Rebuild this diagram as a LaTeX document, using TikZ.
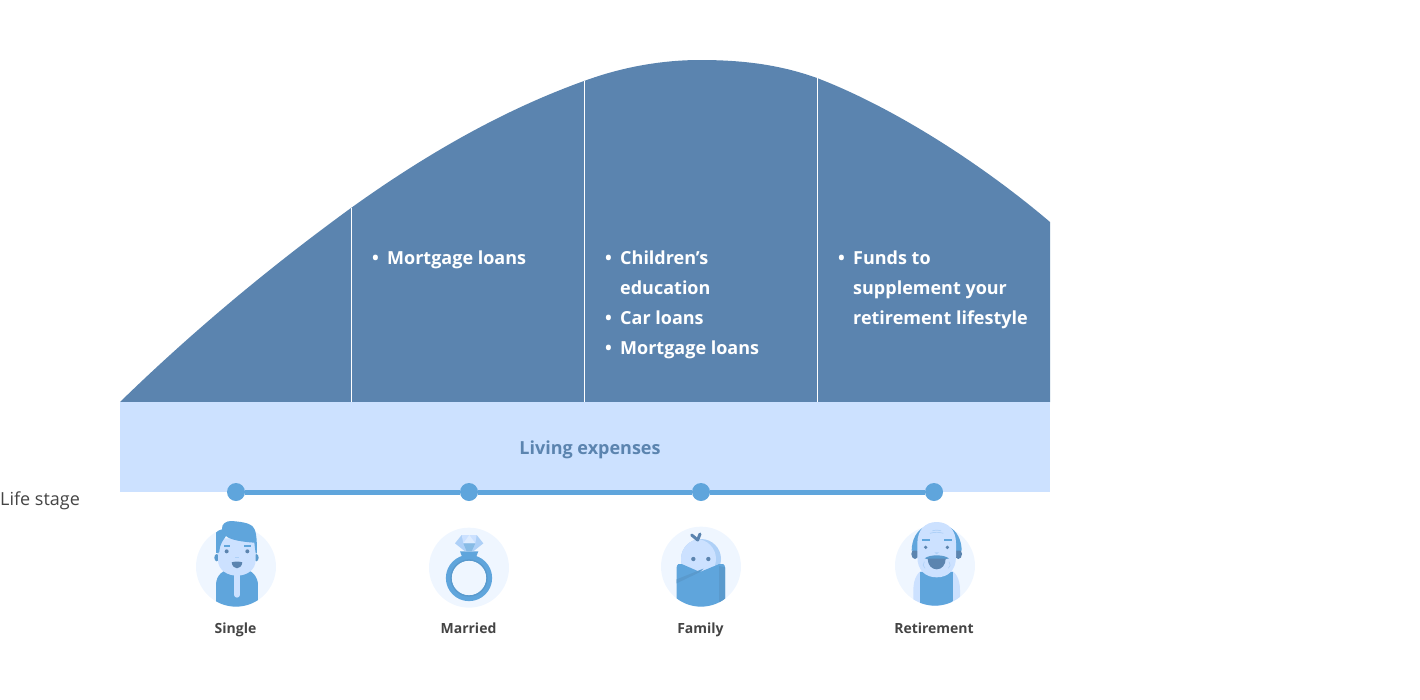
\documentclass[tikz,border=0pt]{standalone}
\usepackage{fontspec}
\setmainfont{Open Sans}
\definecolor{curveblue}{HTML}{5B84AF}
\definecolor{bandblue}{HTML}{CCE1FF}
\definecolor{midblue}{HTML}{5FA5DC}
\definecolor{deepblue}{HTML}{5A9ACD}
\definecolor{paleblue}{HTML}{EFF6FF}
\definecolor{softblue}{HTML}{AED0F7}
\definecolor{inktext}{HTML}{444444}
\tikzset{
  item/.style={anchor=base west,inner sep=0pt,text=white,font=\fontsize{18}{18}\selectfont\bfseries},
  bul/.style={anchor=base,inner sep=0pt,text=white,font=\fontsize{18}{18}\selectfont\bfseries},
  stagelabel/.style={anchor=base,inner sep=0pt,text=inktext,font=\fontsize{14}{14}\selectfont\bfseries},
  dot/.style={circle,fill=midblue,minimum size=18pt,inner sep=0pt},
  divider/.style={white,line width=1pt},
  icon/.style={x=0.3333pt,y=-0.3333pt}
}
\begin{document}
\begin{tikzpicture}[x=1pt,y=-1pt]
\useasboundingbox (0,0) rectangle (1420,699);
% curve area
\fill[curveblue] (120,402) .. controls (196,328) and (274,264) .. (351,208)
  .. controls (429,152) and (506,109) .. (584,81)
  .. controls (622,67) and (662,60) .. (700,60)
  .. controls (740,60) and (778,64) .. (817,78)
  .. controls (895,108) and (983,165) .. (1050,222) -- (1050,402) -- cycle;
\fill[bandblue] (120,402) rectangle (1050,492);
\coordinate (d1t) at (351.5,208); \coordinate (d1b) at (351.5,402);
\coordinate (d2t) at (584.5,81);  \coordinate (d2b) at (584.5,402);
\coordinate (d3t) at (817.5,78);  \coordinate (d3b) at (817.5,402);
\draw[divider] (d1t) -- (d1b);
\draw[divider] (d2t) -- (d2b);
\draw[divider] (d3t) -- (d3b);
% texts
\node[bul] (b1) at (375.5,264) {•};
\node[item] (t1) at (387,264) {Mortgage loans};
\node[bul] (b2) at (608.5,264) {•};
\node[item] (t2) at (620,264) {Children’s};
\node[item] (t2b) at (620,294) {education};
\node[bul] (b3) at (608.5,324) {•};
\node[item] (t3) at (620,324) {Car loans};
\node[bul] (b4) at (608.5,354) {•};
\node[item] (t4) at (620,354) {Mortgage loans};
\node[bul] (b5) at (841.5,264) {•};
\node[item] (t5) at (853,264) {Funds to};
\node[item] (t5b) at (853,294) {supplement your};
\node[item] (t5c) at (853,324) {retirement lifestyle};
\node[anchor=base,inner sep=0pt,text=curveblue,font=\fontsize{18}{18}\selectfont\bfseries] (lv) at (590,454) {Living expenses};
\node[anchor=base west,inner sep=0pt,text=inktext,font=\fontsize{18}{18}\selectfont] (ls) at (0,505) {Life stage};
% timeline
\node[dot] (p1) at (236,492) {};
\node[dot] (p2) at (469,492) {};
\node[dot] (p3) at (701,492) {};
\node[dot] (p4) at (934,492) {};
\draw[midblue,line width=5pt] (p1) -- (p2);
\draw[midblue,line width=5pt] (p2) -- (p3);
\draw[midblue,line width=5pt] (p3) -- (p4);
% labels
\node[stagelabel] (l1) at (235.5,633) {Single};
\node[stagelabel] (l2) at (468.5,633) {Married};
\node[stagelabel] (l3) at (700.5,633) {Family};
\node[stagelabel] (l4) at (934,633) {Retirement};
% single icon
\begin{scope}[shift={(190,510)},icon]
\fill[paleblue] (138,170) circle [radius=120];
\begin{scope}
\clip (138,170) circle [radius=120];
\fill[midblue] (78,290) -- (78,225) .. controls (78,195) and (100,178) .. (125,178) -- (160,178) .. controls (185,178) and (204,200) .. (204,225) -- (204,290) -- cycle;
\end{scope}
\draw[bandblue,line width=5.3pt,line cap=round] (141,190) -- (141,255);
\fill[deepblue] (80,143) ellipse [x radius=7,y radius=11];
\fill[deepblue] (199,143) ellipse [x radius=7,y radius=11];
\fill[bandblue] (84,85) -- (197,85) -- (197,150) .. controls (197,180) and (170,197) .. (141,197) .. controls (112,197) and (84,180) .. (84,150) -- cycle;
\fill[midblue] (84,130) -- (78,128) -- (78,68) .. controls (85,60) and (92,60) .. (96,58) .. controls (94,42) and (108,32) .. (125,33) .. controls (150,35) and (175,38) .. (187,48) .. controls (198,58) and (201,80) .. (201,130) -- (197,130) -- (193,98) .. controls (160,96) and (120,90) .. (108,78) .. controls (100,90) and (90,100) .. (88,125) -- cycle;
\fill[midblue] (101,105) rectangle (121,110);
\fill[midblue] (161,105) rectangle (182,110);
\fill[curveblue] (110,124) circle [radius=6];
\fill[curveblue] (172,124) circle [radius=6];
\fill[softblue] (134,141) rectangle (147,144);
\fill[curveblue] (125,157) .. controls (135,154) and (147,154) .. (157,157) .. controls (156,168) and (148,175) .. (141,175) .. controls (134,175) and (126,168) .. (125,157) -- cycle;
\end{scope}
% married icon
\begin{scope}[shift={(420,510)},icon]
\fill[paleblue] (147,173) circle [radius=120];
\fill[midblue] (120,124) -- (175,124) -- (168,142) -- (127,142) -- cycle;
\draw[midblue,line width=5.6pt] (147,204) circle [radius=61];
\draw[deepblue,line width=1.3pt] (147,204) circle [radius=54];
\fill[softblue] (105,100) -- (125,75) -- (170,75) -- (190,100) -- (160,124) -- (135,124) -- cycle;
\fill[bandblue] (148,75) -- (170,75) -- (166,100) -- (130,100) -- (125,75) -- cycle;
\fill[paleblue!50!bandblue] (148,75) -- (166,100) -- (130,100) -- cycle;
\fill[midblue!75!white] (130,100) -- (166,100) -- (155,124) -- (140,124) -- cycle;
\end{scope}
% family icon
\begin{scope}[shift={(650,510)},icon]
\fill[paleblue] (153,170) circle [radius=120];
\fill[softblue] (153,147) circle [radius=60];
\begin{scope}
\clip (153,147) circle [radius=60];
\fill[bandblue] (138,147) circle [radius=60];
\end{scope}
\draw[curveblue,line width=3pt,line cap=round,line join=round] (125,75) -- (143,90) -- (150,72);
\fill[curveblue] (130,147) circle [radius=6.5];
\fill[curveblue] (175,147) circle [radius=6.5];
\begin{scope}
\clip (153,170) circle [radius=120];
\fill[midblue] (80,300) -- (80,172) .. controls (80,163) and (88,159) .. (95,162) -- (150,186) -- (208,162) .. controls (216,159) and (225,163) .. (225,172) -- (225,300) -- cycle;
\fill[deepblue] (207,168) -- (225,172) -- (225,300) -- (207,300) -- cycle;
\fill[deepblue] (80,208) -- (160,176) -- (150,186) -- (80,220) -- cycle;
\end{scope}
\end{scope}
% retirement icon
\begin{scope}[shift={(885,510)},icon]
\fill[paleblue] (150,167) circle [radius=120];
\begin{scope}
\clip (150,167) circle [radius=120];
\fill[bandblue] (85,300) -- (85,240) .. controls (85,205) and (100,178) .. (125,178) -- (185,178) .. controls (210,178) and (225,205) .. (225,240) -- (225,300) -- cycle;
\fill[midblue] (105,300) -- (105,185) -- (205,185) -- (205,300) -- cycle;
\end{scope}
\fill[curveblue] (90,132) ellipse [x radius=11,y radius=15];
\fill[curveblue] (220,132) ellipse [x radius=11,y radius=15];
\fill[midblue] (80,122) .. controls (80,90) and (95,60) .. (120,50) -- (190,50) .. controls (215,60) and (230,90) .. (230,122) -- (92,122) -- cycle;
\fill[bandblue] (97,100) .. controls (97,60) and (120,36) .. (155,36) .. controls (190,36) and (213,60) .. (213,100) -- (213,140) .. controls (213,180) and (190,202) .. (155,202) .. controls (120,202) and (97,180) .. (97,140) -- cycle;
\draw[softblue,line width=0.7pt] (135,70) .. controls (145,66) and (165,66) .. (175,70);
\draw[softblue,line width=0.7pt] (142,62) .. controls (150,60) and (160,60) .. (168,62);
\fill[midblue] (112,88) rectangle (135,93);
\fill[midblue] (178,88) rectangle (200,93);
\fill[curveblue] (122,112) circle [radius=5.5];
\fill[curveblue] (187,112) circle [radius=5.5];
\fill[softblue] (148,127) -- (162,127) -- (155,133) -- cycle;
\fill[deepblue] (119,145) .. controls (135,133) and (175,133) .. (192,145) -- (180,148) -- (130,148) -- cycle;
\fill[curveblue] (128,146) -- (182,146) .. controls (182,165) and (170,178) .. (155,178) .. controls (140,178) and (128,165) .. (128,146) -- cycle;
\draw[softblue,line width=0.6pt] (118,155) .. controls (112,162) and (114,170) .. (120,175);
\draw[softblue,line width=0.6pt] (192,155) .. controls (198,162) and (196,170) .. (190,175);
\end{scope}
\end{tikzpicture}
\end{document}
